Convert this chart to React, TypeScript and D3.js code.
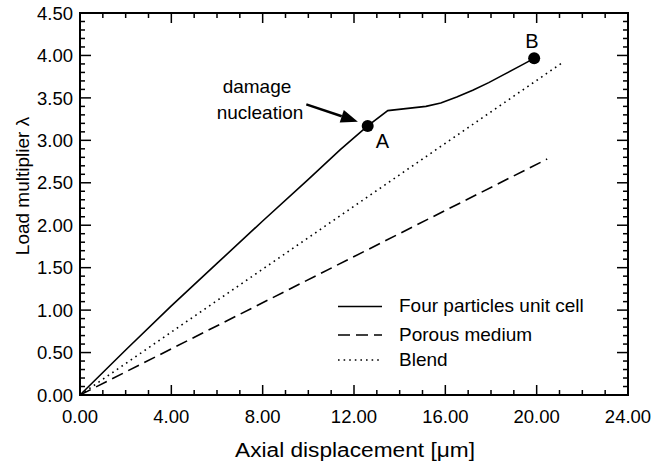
import React, { useEffect, useRef } from 'react';
import * as d3 from 'd3';

// Four particles unit cell
const cellX = [0, 2, 4, 6, 8, 10, 11.4, 12.6, 13.48, 15.15, 15.8, 16.5, 17.2, 17.9, 18.6, 19.3, 19.89];
const cellY = [0, 0.53, 1.05, 1.55, 2.05, 2.54, 2.89, 3.17, 3.35, 3.4, 3.44, 3.51, 3.59, 3.68, 3.78, 3.88, 3.966];
// Porous medium
const porousX = [0, 20.46];
const porousY = [0, 2.78];
// Blend
const blendX = [0, 21.1];
const blendY = [0, 3.91];

const pointNames = ['A', 'B'];
const pointX = [12.6, 19.89];
const pointY = [3.17, 3.966];

const arrowX = [9.91, 12.17];
const arrowY = [3.424, 3.22];

const xTicks = [0, 4, 8, 12, 16, 20, 24];
const yTicks = [0, 0.5, 1, 1.5, 2, 2.5, 3, 3.5, 4, 4.5];

const legendNames = ['Four particles unit cell', 'Porous medium', 'Blend'];

const FONT = '"Liberation Sans", Arial, Helvetica, sans-serif';

const App = () => {
  const svgRef = useRef<SVGSVGElement>(null);

  useEffect(() => {
    const svg = d3.select(svgRef.current);
    const width = 653;
    const height = 466;
    const margin = { top: 13, right: 25, bottom: 71, left: 80 };

    const x = d3.scaleLinear().domain([0, 24]).range([margin.left, width - margin.right]);
    const y = d3.scaleLinear().domain([0, 4.5]).range([height - margin.bottom, margin.top]);

    svg.selectAll('*').remove();

    const x0 = x(0), x1 = x(24), y0 = y(0), y1 = y(4.5);

    // ticks, pointing inward on all four sides
    const ticks = svg.append('g').attr('stroke', '#000').attr('stroke-width', 1.5);
    d3.range(0, 24.01, 1).forEach(v => {
      const len = v % 4 === 0 ? 10 : 5;
      ticks.append('line').attr('x1', x(v)).attr('x2', x(v)).attr('y1', y0).attr('y2', y0 - len);
      ticks.append('line').attr('x1', x(v)).attr('x2', x(v)).attr('y1', y1).attr('y2', y1 + len);
    });
    d3.range(0, 46).forEach(i => {
      const v = i / 10;
      const len = i % 5 === 0 ? 11 : 5;
      ticks.append('line').attr('x1', x0).attr('x2', x0 + len).attr('y1', y(v)).attr('y2', y(v));
      ticks.append('line').attr('x1', x1).attr('x2', x1 - len).attr('y1', y(v)).attr('y2', y(v));
    });

    svg.append('rect')
      .attr('x', x0).attr('y', y1)
      .attr('width', x1 - x0).attr('height', y0 - y1)
      .attr('fill', 'none').attr('stroke', '#000').attr('stroke-width', 2);

    // tick labels
    svg.append('g')
      .attr('font-family', FONT).attr('font-size', 18.5).attr('text-anchor', 'middle')
      .selectAll('text').data(xTicks).join('text')
        .attr('x', d => x(d)).attr('y', 423)
        .text(d => d.toFixed(2));

    svg.append('g')
      .attr('font-family', FONT).attr('font-size', 18.5).attr('text-anchor', 'end')
      .selectAll('text').data(yTicks).join('text')
        .attr('x', 73).attr('y', d => y(d)).attr('dy', '0.36em')
        .text(d => d.toFixed(2));

    // axis titles
    svg.append('text')
      .attr('x', 235).attr('y', 457)
      .attr('font-family', FONT).attr('font-size', 20)
      .attr('textLength', 240).attr('lengthAdjust', 'spacingAndGlyphs')
      .text('Axial displacement [\u03bcm]');

    svg.append('text')
      .attr('transform', `translate(29,${(110 + 262) / 2}) rotate(-90)`)
      .attr('font-family', FONT).attr('font-size', 19).attr('text-anchor', 'middle')
      .text('Load multiplier  \u03bb');

    // series
    const line = d3.line<[number, number]>().x(d => x(d[0])).y(d => y(d[1]));
    const zip = (xs: number[], ys: number[]) => xs.map((v, i) => [v, ys[i]] as [number, number]);

    const series = [
      { pts: zip(cellX, cellY), dash: null, w: 1.6 },
      { pts: zip(porousX, porousY), dash: '12,6', w: 1.6 },
      { pts: zip(blendX, blendY), dash: '1.6,4', w: 1.6 },
    ];

    series.forEach(s => {
      svg.append('path')
        .attr('d', line(s.pts))
        .attr('fill', 'none').attr('stroke', '#000')
        .attr('stroke-width', s.w)
        .attr('stroke-dasharray', s.dash);
    });

    // marked points
    svg.append('g')
      .selectAll('circle').data(pointX).join('circle')
        .attr('cx', d => x(d)).attr('cy', (d, i) => y(pointY[i]))
        .attr('r', 6).attr('fill', '#000');

    svg.append('text')
      .attr('x', x(pointX[0]) + 8).attr('y', y(pointY[0]) + 22)
      .attr('font-family', FONT).attr('font-size', 20)
      .text(pointNames[0]);
    svg.append('text')
      .attr('x', x(pointX[1]) - 9).attr('y', y(pointY[1]) - 10)
      .attr('font-family', FONT).attr('font-size', 20)
      .text(pointNames[1]);

    // annotation arrow
    const ax0 = x(arrowX[0]), ay0 = y(arrowY[0]);
    const ax1 = x(arrowX[1]), ay1 = y(arrowY[1]);
    const ang = Math.atan2(ay1 - ay0, ax1 - ax0);
    const headLen = 17, headW = 6.5;
    const bx = ax1 - headLen * Math.cos(ang), by = ay1 - headLen * Math.sin(ang);
    svg.append('line')
      .attr('x1', ax0).attr('y1', ay0).attr('x2', bx).attr('y2', by)
      .attr('stroke', '#000').attr('stroke-width', 2.5);
    svg.append('polygon')
      .attr('points', [
        [ax1, ay1],
        [bx + headW * Math.sin(ang), by - headW * Math.cos(ang)],
        [bx - headW * Math.sin(ang), by + headW * Math.cos(ang)],
      ].map(p => p.join(',')).join(' '))
      .attr('fill', '#000');

    const note = svg.append('g').attr('font-family', FONT).attr('font-size', 19).attr('text-anchor', 'middle');
    note.append('text').attr('x', 257).attr('y', 93).text('damage');
    note.append('text').attr('x', 260).attr('y', 119).text('nucleation');

    // legend
    const legendY = [306.5, 335, 360];
    const legend = svg.append('g');
    legendNames.forEach((name, i) => {
      legend.append('line')
        .attr('x1', 338).attr('x2', 382)
        .attr('y1', legendY[i]).attr('y2', legendY[i])
        .attr('stroke', '#000').attr('stroke-width', 1.6)
        .attr('stroke-dasharray', series[i].dash);
      legend.append('text')
        .attr('x', 399).attr('y', legendY[i] + 5.5)
        .attr('font-family', FONT).attr('font-size', 19)
        .text(name);
    });
  }, []);

  return (
    <svg
      ref={svgRef}
      width="653"
      height="466"
      style={{ position: 'absolute', left: 0, top: 0, background: '#fff' }}
    ></svg>
  );
};

export default App;
